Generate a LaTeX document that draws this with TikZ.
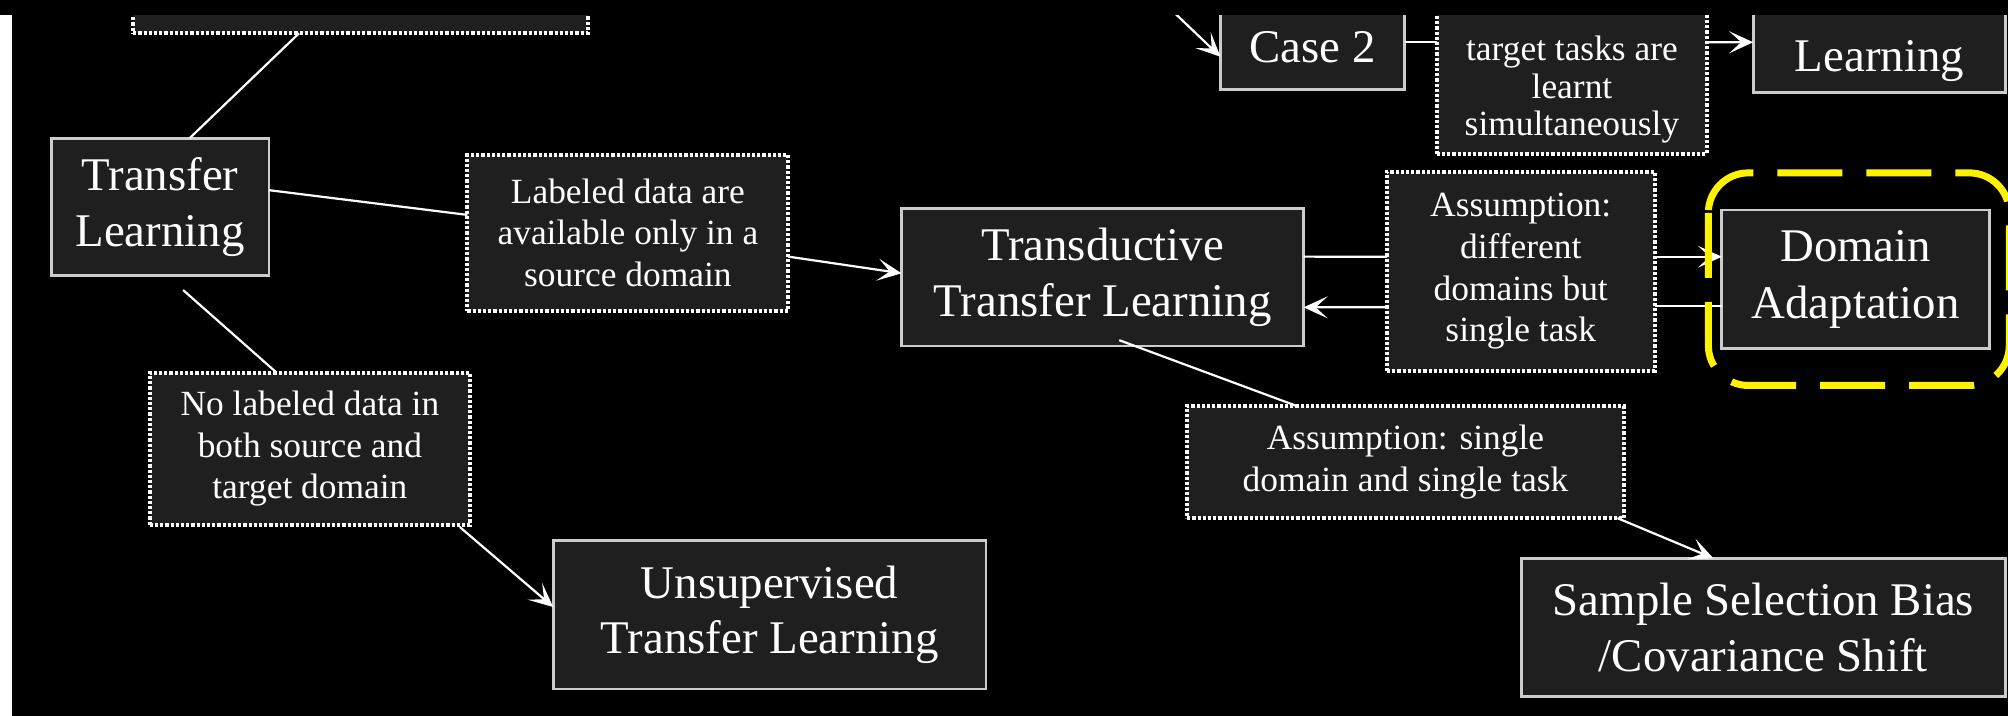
\documentclass[tikz,border=0pt]{standalone}
\usepackage{fontspec}
\setmainfont{Liberation Serif}
\usetikzlibrary{arrows.meta,calc}

\begin{document}
\begin{tikzpicture}[x=0.64pt,y=-0.64pt,
  sz/.style 2 args={minimum width=#1*0.64pt, minimum height=#2*0.64pt},
  panel/.style={fill=black!88, inner sep=0pt, outer sep=0pt, text=white, align=center},
  solidbox/.style={panel, draw=black!20, line width=1.4pt},
  dotbox/.style={panel, draw=white, line width=2pt, dash pattern=on 1.6pt off 1pt},
  bigtext/.style={font=\fontsize{23.4}{27.8}\selectfont},
  smalltext/.style={font=\fontsize{17.7}{20.8}\selectfont},
  link/.style={draw=white, line width=1.1pt},
  arrowlink/.style={link, -{Stealth[length=12pt,width=11pt,inset=6pt]}},
  highlight/.style={draw=yellow, line width=3.5pt, rounded corners=20pt, dash pattern=on 32.5pt off 12pt}
]
\useasboundingbox (0,0) rectangle (1568,559);
\fill[black] (0,0) rectangle (1568,559);

\begin{scope}
\clip (0,0) rectangle (1568,559);

% boxes
\node[dotbox, sz={355}{86}] (topbox) at (281.5,-17) {};
\node[solidbox, bigtext, sz={170}{107}] (tl) at (125,161.5) {Transfer\\Learning};
\node[dotbox, smalltext, sz={250.6}{121.6}] (labeled) at (490.3,181.8) {Labeled data are\\available only in a\\source domain};
\node[solidbox, bigtext, sz={314}{107.5}] (trans) at (861,216.4) {Transductive\\Transfer Learning};
\node[dotbox, smalltext, sz={250}{119}] (nolab) at (242,350.5) {No labeled data in\\both source and\\target domain};
\node[solidbox, bigtext, sz={338}{116}] (unsup) at (601,480) {Unsupervised\\Transfer Learning};
\node[solidbox, bigtext, sz={144}{66}] (case2) at (1025,37) {Case 2};
\node[dotbox, sz={211}{119}] (multibox) at (1227.5,60.5) {};
\node[text=white, align=center, font=\fontsize{17.7}{18.6}\selectfont] (multitext) at (1227.5,70) {target tasks are\\learnt\\simultaneously};
\node[solidbox, sz={197}{80}] (learnbox) at (1467.5,32.4) {};
\node[bigtext, text=white, anchor=base] (learntext) at (1467.5,56) {Learning};
\node[dotbox, smalltext, sz={209}{156}] (assume) at (1187.5,212) {Assumption:\\different\\domains but\\single task};
\node[solidbox, font=\fontsize{23.4}{28.6}\selectfont, sz={209}{108}] (da) at (1449,218) {Domain\\Adaptation};
\node[dotbox, smalltext, sz={341}{87.6}] (single) at (1097.5,360.8) {Assumption: single\\domain and single task};
\node[solidbox, bigtext, sz={378}{108}] (ssb) at (1377,490) {Sample Selection Bias\\/Covariance Shift};

% connectors
\draw[link] ($(topbox.south)+(-48,0)$) -- ($(tl.north)+(23,0)$);
\draw[link] ($(tl.east)+(0,-13)$) -- ($(labeled.west)+(0,-14)$);
\draw[arrowlink] ($(labeled.east)+(0,18.6)$) -- ($(trans.west)+(0,-3)$);
\draw[link] ($(tl.south)+(18,11.5)$) -- ($(nolab.north)+(-26,0)$);
\draw[arrowlink] ($(nolab.south east)+(-8,1.5)$) -- ($(unsup.west)+(0,-6)$);
\draw[link] ($(trans.south)+(13,-4.5)$) -- ($(single.north)+(-85,0)$);
\draw[arrowlink] ($(single.south east)+(-5,0)$) -- ($(ssb.north)+(-39,0)$);
\draw[link] ($(trans.east)+(0,-16)$) -- ($(assume.west)+(0,-11.5)$);
\draw[arrowlink] ($(assume.west)+(0,28)$) -- ($(trans.east)+(0,23.6)$);
\draw[arrowlink] ($(assume.east)+(0,-11.5)$) -- ($(da.west)+(0,-17.5)$);
\draw[link] ($(da.west)+(0,21)$) -- ($(assume.east)+(0,27)$);
\coordinate (case2src) at (906.6,0);
\draw[arrowlink] (case2src) -- ($(case2.west)+(0,7.3)$);
\draw[link] ($(case2.east)+(0,-4)$) -- ($(multibox.west)+(0,-27.5)$);
\draw[arrowlink] ($(multibox.east)+(0,-27.5)$) -- ($(learnbox.west)+(0,0.6)$);

% highlight around domain adaptation
\draw[highlight] (1334,135) rectangle (1569,301);
\end{scope}

% frame edges
\fill[black] (0,0) rectangle (1568,11.7);
\fill[white] (0,11.7) rectangle (9.4,559);
\end{tikzpicture}
\end{document}
